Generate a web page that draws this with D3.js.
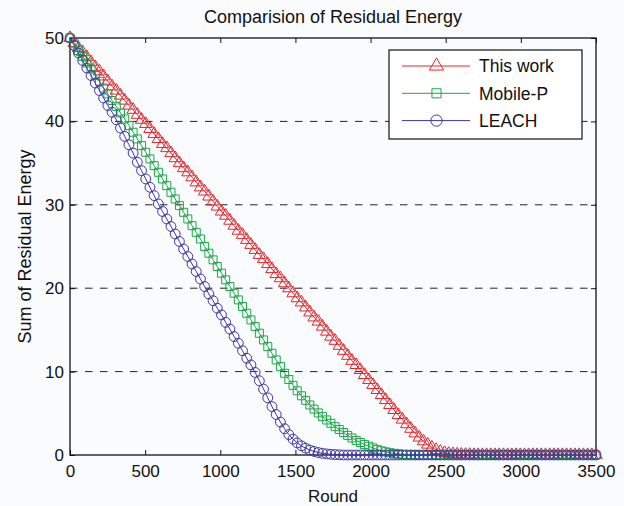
<!DOCTYPE html>
<html>
<head>
<meta charset="utf-8">
<script src="https://cdn.jsdelivr.net/npm/d3@7"></script>
<style>
  body { margin: 0; background: #fafbfc; }
  text { font-family: "Liberation Sans", Arial, Helvetica, sans-serif; fill: #111; }
</style>
</head>
<body>
<div id="chart"></div>
<script>
const width = 624, height = 506;
const margin = {top: 38, right: 28, bottom: 51, left: 70};

// rounds where each curve was sampled
const rounds = [0,28,56,84,112,140,168,196,224,252,280,308,336,364,392,420,448,476,504,532,
  560,588,616,644,672,700,728,756,784,812,840,868,896,924,952,980,1008,1036,1064,1092,
  1120,1148,1176,1204,1232,1260,1288,1316,1344,1372,1400,1428,1456,1484,1512,1540,1568,1596,1624,1652,
  1680,1708,1736,1764,1792,1820,1848,1876,1904,1932,1960,1988,2016,2044,2072,2100,2128,2156,2184,2212,
  2240,2268,2296,2324,2352,2380,2408,2436,2464,2492,2520,2548,2576,2604,2632,2660,2688,2716,2744,2772,
  2800,2828,2856,2884,2912,2940,2968,2996,3024,3052,3080,3108,3136,3164,3192,3220,3248,3276,3304,3332,
  3360,3388,3416,3444,3472,3500];

const thisWork = [50.0,49.4,48.8,48.3,47.7,47.1,46.5,46.0,45.4,44.8,
  44.2,43.7,43.1,42.5,41.9,41.4,40.8,40.2,39.7,39.1,
  38.5,37.9,37.3,36.8,36.2,35.6,35.0,34.4,33.9,33.3,
  32.7,32.1,31.6,31.0,30.4,29.8,29.2,28.7,28.1,27.5,
  26.9,26.4,25.8,25.2,24.6,24.0,23.5,22.9,22.3,21.7,
  21.2,20.6,20.0,19.4,18.8,18.3,17.7,17.1,16.5,16.0,
  15.4,14.8,14.2,13.7,13.1,12.5,11.9,11.3,10.8,10.2,
  9.6,9.0,8.4,7.8,7.2,6.6,6.0,5.4,4.8,4.25,
  3.7,3.15,2.6,2.1,1.65,1.25,0.9,0.6,0.4,0.25,
  0.15,0.1,0.07,0.05,0.03,0.02,0,0,0,0,
  0,0,0,0,0,0,0,0,0,0,
  0,0,0,0,0,0,0,0,0,0,
  0,0,0,0,0,0];

const mobileP = [50.0,49.3,48.5,47.8,47.0,46.3,45.5,44.8,44.0,43.3,
  42.5,41.8,41.0,40.3,39.5,38.7,37.9,37.1,36.3,35.5,
  34.7,33.9,33.1,32.3,31.5,30.7,29.9,29.1,28.3,27.5,
  26.7,25.9,25.0,24.2,23.4,22.6,21.8,21.0,20.2,19.4,
  18.6,17.8,17.0,16.2,15.4,14.6,13.8,13.0,12.2,11.4,
  10.6,9.8,9.05,8.35,7.7,7.1,6.55,6.0,5.5,5.05,
  4.6,4.2,3.8,3.4,3.05,2.7,2.35,2.05,1.75,1.5,
  1.25,1.05,0.85,0.65,0.5,0.38,0.28,0.2,0.13,0.08,
  0.04,0.02,0,0,0,0,0,0,0,0,
  0,0,0,0,0,0,0,0,0,0,
  0,0,0,0,0,0,0,0,0,0,
  0,0,0,0,0,0,0,0,0,0,
  0,0,0,0,0,0];

const leach = [50.0,49.1,48.2,47.3,46.4,45.5,44.6,43.7,42.8,41.9,
  41.1,40.2,39.2,38.2,37.2,36.2,35.1,34.1,33.1,32.1,
  31.1,30.1,29.2,28.3,27.4,26.5,25.6,24.7,23.8,22.9,
  22.0,21.1,20.2,19.3,18.5,17.6,16.8,15.9,15.1,14.2,
  13.4,12.5,11.6,10.8,9.9,8.9,7.9,6.85,5.8,4.85,
  3.95,3.15,2.45,1.9,1.45,1.1,0.82,0.6,0.43,0.3,
  0.2,0.13,0.08,0.05,0.03,0,0,0,0,0,
  0,0,0,0,0,0,0,0,0,0,
  0,0,0,0,0,0,0,0,0,0,
  0,0,0,0,0,0,0,0,0,0,
  0,0,0,0,0,0,0,0,0,0,
  0,0,0,0,0,0,0,0,0,0,
  0,0,0,0,0,0];

const seriesNames = ['This work', 'Mobile-P', 'LEACH'];
const xTicks = [0, 500, 1000, 1500, 2000, 2500, 3000, 3500];
const yTicks = [0, 10, 20, 30, 40, 50];
const gridValues = [10, 20, 30, 40];

const series = [
  {name: seriesNames[0], values: thisWork, color: '#dc2a30', symbol: d3.symbolTriangle, size: 66},
  {name: seriesNames[1], values: mobileP, color: '#1ea64a', symbol: d3.symbolSquare, size: 64},
  {name: seriesNames[2], values: leach, color: '#3b36a0', symbol: d3.symbolCircle, size: 76}
];

const svg = d3.select('#chart').append('svg')
    .attr('width', width).attr('height', height);

const x = d3.scaleLinear().domain([0, 3500]).range([margin.left, width - margin.right]);
const y = d3.scaleLinear().domain([0, 50]).range([height - margin.bottom, margin.top]);

// dashed horizontal grid
svg.append('g').selectAll('line')
    .data(gridValues)
    .enter().append('line')
    .attr('x1', x(0)).attr('x2', x(3500))
    .attr('y1', d => y(d)).attr('y2', d => y(d))
    .attr('stroke', '#222')
    .attr('stroke-width', 1)
    .attr('stroke-dasharray', '7.5,7.5');

// axes, ticks point inwards
const fontSize = '17px';
const xAxis = svg.append('g')
    .attr('transform', 'translate(0,' + y(0) + ')')
    .call(d3.axisBottom(x).tickValues(xTicks).tickFormat(d3.format('d'))
      .tickSizeInner(-5).tickSizeOuter(0).tickPadding(10));
const xTop = svg.append('g')
    .attr('transform', 'translate(0,' + y(50) + ')')
    .call(d3.axisTop(x).tickValues(xTicks).tickSizeInner(-5).tickSizeOuter(0).tickFormat(''));
const yAxis = svg.append('g')
    .attr('transform', 'translate(' + x(0) + ',0)')
    .call(d3.axisLeft(y).tickValues(yTicks).tickSizeInner(-5).tickSizeOuter(0).tickPadding(6));
const yRight = svg.append('g')
    .attr('transform', 'translate(' + x(3500) + ',0)')
    .call(d3.axisRight(y).tickValues(yTicks).tickSizeInner(-5).tickSizeOuter(0).tickFormat(''));

[xAxis, xTop, yAxis, yRight].forEach(g => {
  g.select('.domain').remove();
  g.selectAll('.tick line').attr('stroke', '#111');
  g.selectAll('.tick text').style('font-size', fontSize).attr('fill', '#111')
    .style('font-family', '"Liberation Sans", Arial, Helvetica, sans-serif');
});

// box round the plot
svg.append('rect')
    .attr('x', x(0)).attr('y', y(50))
    .attr('width', x(3500) - x(0)).attr('height', y(0) - y(50))
    .attr('fill', 'none').attr('stroke', '#111').attr('stroke-width', 1.3);

const line = d3.line()
    .x((d, i) => x(rounds[i]))
    .y(d => y(d));

series.forEach(s => {
  const g = svg.append('g');
  g.append('path')
      .attr('d', line(s.values))
      .attr('fill', 'none')
      .attr('stroke', s.color)
      .attr('stroke-width', 1);
  g.selectAll('path.marker')
      .data(s.values)
      .enter().append('path')
      .attr('class', 'marker')
      .attr('d', d3.symbol().type(s.symbol).size(s.size))
      .attr('transform', (d, i) => 'translate(' + x(rounds[i]) + ',' + y(d) + ')')
      .attr('fill', 'none')
      .attr('stroke', s.color)
      .attr('stroke-width', 1);
});

// title and axis labels
svg.append('text')
    .attr('x', (x(0) + x(3500)) / 2).attr('y', 23)
    .attr('text-anchor', 'middle')
    .style('font-size', '18px')
    .text('Comparision of Residual Energy');

svg.append('text')
    .attr('x', (x(0) + x(3500)) / 2).attr('y', 502)
    .attr('text-anchor', 'middle')
    .style('font-size', fontSize)
    .text('Round');

svg.append('text')
    .attr('transform', 'translate(31,' + ((y(0) + y(50)) / 2) + ') rotate(-90)')
    .attr('text-anchor', 'middle')
    .style('font-size', '18px')
    .text('Sum of Residual Energy');

// legend
const legend = svg.append('g');
legend.append('rect')
    .attr('x', 389).attr('y', 50)
    .attr('width', 193).attr('height', 89)
    .attr('fill', '#fff').attr('stroke', '#111').attr('stroke-width', 1.2);

const rows = legend.selectAll('g.row')
    .data(series)
    .enter().append('g')
    .attr('class', 'row')
    .attr('transform', (d, i) => 'translate(0,' + (66 + i * 27.3) + ')');

rows.append('line')
    .attr('x1', 402).attr('x2', 470)
    .attr('stroke', d => d.color).attr('stroke-width', 1);
rows.append('path')
    .attr('d', d => d3.symbol().type(d.symbol).size(d.size * 1.3)())
    .attr('transform', 'translate(436.5,0)')
    .attr('fill', 'none')
    .attr('stroke', d => d.color);
rows.append('text')
    .attr('x', 479).attr('dy', '0.36em')
    .style('font-size', '17.5px')
    .text(d => d.name);
</script>
</body>
</html>
